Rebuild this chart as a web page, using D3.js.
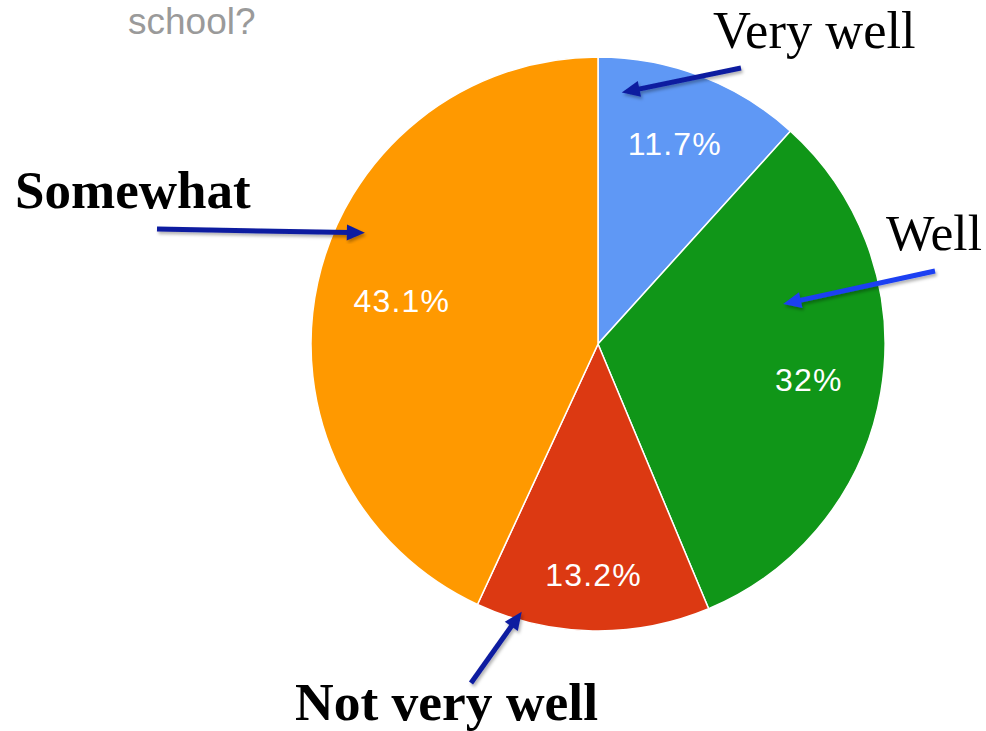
<!DOCTYPE html>
<html>
<head>
<meta charset="utf-8">
<script src="https://cdn.jsdelivr.net/npm/d3@7"></script>
<style>
  html, body { margin: 0; padding: 0; background: #fff; }
  svg { display: block; }
</style>
</head>
<body>
<svg id="chart" width="986" height="731"></svg>
<script>
// ---- data ----
const categories = ["Very well", "Well", "Not very well", "Somewhat"];
const values = [11.7, 32, 13.2, 43.1];
const valueLabels = ["11.7%", "32%", "13.2%", "43.1%"];
const colors = ["#5f98f5", "#109618", "#dc3912", "#ff9900"];
const titleText = "school?";

// ---- layout ----
const W = 986, H = 731;
const cx = 598, cy = 344, R = 287;
const svg = d3.select("#chart");

// drop shadow for arrows
const defs = svg.append("defs");
const f = defs.append("filter").attr("id", "shadow").attr("x", "-20%").attr("y", "-20%").attr("width", "140%").attr("height", "140%");
f.append("feDropShadow").attr("dx", 1.5).attr("dy", 2.5).attr("stdDeviation", 1.5).attr("flood-color", "#000").attr("flood-opacity", 0.3);

// title (cropped Google chart title)
svg.append("text")
  .attr("x", 128).attr("y", 34)
  .attr("font-family", "Liberation Sans, Arial, sans-serif")
  .attr("font-size", 37)
  .attr("fill", "#9a9a9a")
  .text(titleText);

const pie = d3.pie().sort(null).value(d => d)(values);
const arc = d3.arc().innerRadius(0).outerRadius(R);

const g = svg.append("g").attr("transform", `translate(${cx},${cy})`);
g.selectAll("path.slice")
  .data(pie)
  .join("path")
  .attr("class", "slice")
  .attr("d", arc)
  .attr("fill", (d, i) => colors[i])
  .attr("stroke", "#ffffff")
  .attr("stroke-width", 1.5);

// percent labels inside slices (radius fraction per slice, as Google places them)
const labelRadiusFrac = [0.745, 0.745, 0.805, 0.70];
g.selectAll("text.pct")
  .data(pie)
  .join("text")
  .attr("class", "pct")
  .attr("transform", (d, i) => {
    const a = (d.startAngle + d.endAngle) / 2;
    const r = R * labelRadiusFrac[i];
    return `translate(${r * Math.sin(a)},${-r * Math.cos(a) + 11})`;
  })
  .attr("text-anchor", "middle")
  .attr("font-family", "Liberation Sans, Arial, sans-serif")
  .attr("font-size", 32)
  .attr("letter-spacing", 1.2)
  .attr("fill", "#ffffff")
  .text((d, i) => valueLabels[i]);

// ---- annotations (callout labels with arrows) ----
// tip: polar position on the pie (degrees clockwise from top, radius fraction)
const annotations = [
  { cat: 0, tipDeg: 5.4,   tipR: 0.88, tail: [741, 68],  color: "#0e1ca0", label: [713, 48],  weight: "normal", size: 52.5 },
  { cat: 1, tipDeg: 77.8,  tipR: 0.66, tail: [935, 271], color: "#1b3ff2", label: [886, 250], weight: "normal", size: 51.5 },
  { cat: 2, tipDeg: 195.9, tipR: 0.97, tail: [471, 683], color: "#0e1ca0", label: [295, 720], weight: "bold",   size: 53.5 },
  { cat: 3, tipDeg: 295.5, tipR: 0.90, tail: [157, 229], color: "#0e1ca0", label: [15, 208],  weight: "bold",   size: 53 }
];

const ann = svg.append("g");
annotations.forEach(a => {
  const ang = a.tipDeg * Math.PI / 180;
  const tx = cx + R * a.tipR * Math.sin(ang);
  const ty = cy - R * a.tipR * Math.cos(ang);
  const [sx, sy] = a.tail;
  const dx = tx - sx, dy = ty - sy;
  const len = Math.hypot(dx, dy);
  const ux = dx / len, uy = dy / len;
  const headLen = 18, headW = 8;
  const bx = tx - ux * headLen, by = ty - uy * headLen;
  const grp = ann.append("g").attr("filter", "url(#shadow)");
  grp.append("line")
    .attr("x1", sx).attr("y1", sy)
    .attr("x2", bx + ux * 2).attr("y2", by + uy * 2)
    .attr("stroke", a.color)
    .attr("stroke-width", 5);
  grp.append("path")
    .attr("d", `M${tx},${ty} L${bx - uy * headW},${by + ux * headW} L${bx + uy * headW},${by - ux * headW} Z`)
    .attr("fill", a.color);
  ann.append("text")
    .attr("x", a.label[0]).attr("y", a.label[1])
    .attr("font-family", "Liberation Serif, Times New Roman, serif")
    .attr("font-size", a.size)
    .attr("font-weight", a.weight)
    .attr("fill", "#000")
    .text(categories[a.cat]);
});
</script>
</body>
</html>
